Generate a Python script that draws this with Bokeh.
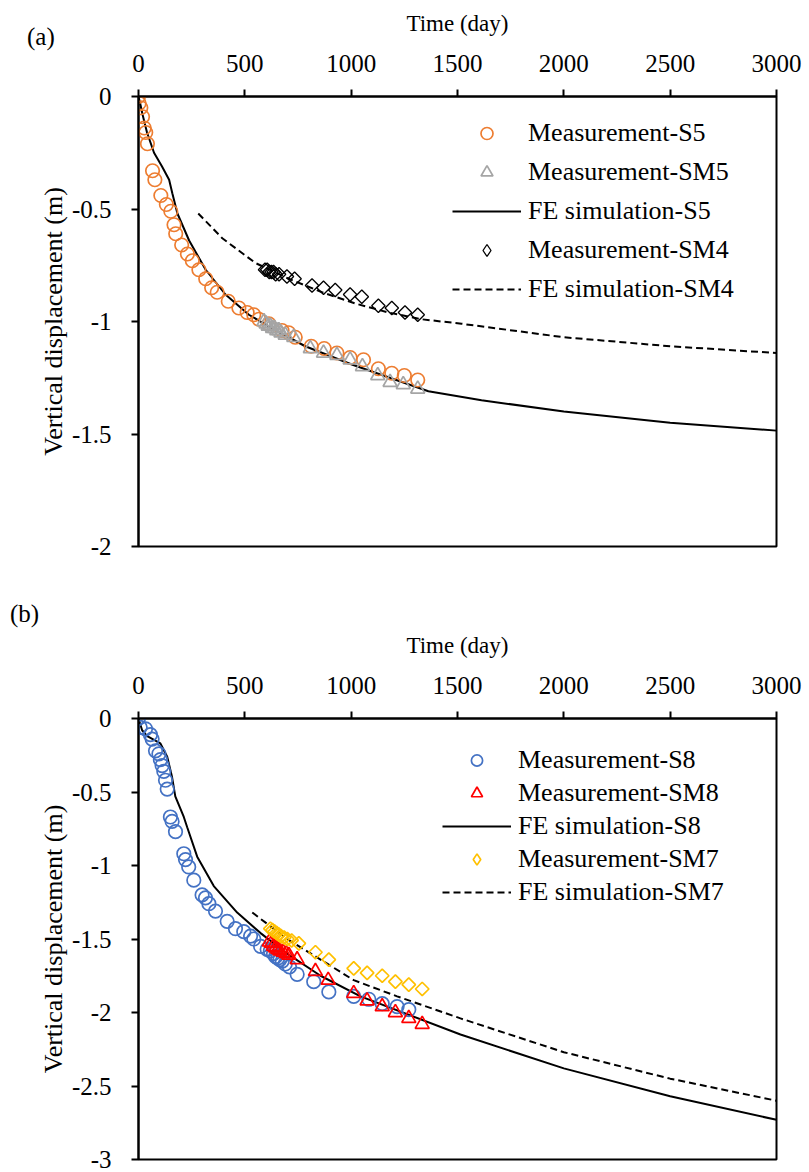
import math
from bokeh.plotting import figure
from bokeh.layouts import column
from bokeh.models import Range1d, FixedTicker, CustomJSTickFormatter, Legend, LegendItem, Div
from bokeh.embed import file_html
from bokeh.resources import INLINE

# ---------------- Panel (a) data ----------------
s5_day = [0, 3, 11, 19, 27, 34, 42, 66, 77, 105, 131, 152, 167, 175, 203, 230, 253, 284, 316, 344,
          370, 422, 472, 511, 542, 566, 613, 675, 706, 737, 812, 873, 933, 995, 1058, 1128, 1191, 1250, 1313]
s5_val = [0, -0.03, -0.05, -0.09, -0.14, -0.16, -0.21, -0.33, -0.37, -0.44, -0.48, -0.51, -0.57, -0.61,
          -0.66, -0.70, -0.73, -0.77, -0.81, -0.85, -0.87, -0.91, -0.94, -0.96, -0.97, -0.99, -1.01,
          -1.04, -1.05, -1.07, -1.11, -1.12, -1.14, -1.16, -1.17, -1.21, -1.23, -1.24, -1.26]

sm5_day = [590, 600, 610, 620, 630, 640, 650, 660, 670, 690, 730, 808, 870, 933, 995, 1053, 1125, 1183, 1245, 1313]
sm5_val = [-1.00, -1.01, -1.02, -1.02, -1.03, -1.03, -1.04, -1.04, -1.05, -1.06, -1.07, -1.12, -1.14,
           -1.15, -1.17, -1.20, -1.24, -1.27, -1.28, -1.30]

sm4_day = [595, 605, 615, 625, 635, 645, 661, 698, 734, 816, 870, 925, 995, 1050, 1128, 1191, 1253, 1313]
sm4_val = [-0.77, -0.77, -0.78, -0.78, -0.78, -0.79, -0.79, -0.80, -0.81, -0.84, -0.85, -0.86, -0.88,
           -0.89, -0.93, -0.94, -0.96, -0.97]

s5_sim_day = [0, 10, 19, 40, 73, 110, 144, 159, 183, 238, 316, 409, 519, 628, 784, 1000, 1363, 1613, 2000, 2500, 3000]
s5_sim_val = [0, -0.04, -0.08, -0.16, -0.25, -0.31, -0.37, -0.43, -0.52, -0.64, -0.77, -0.88, -0.97,
              -1.03, -1.11, -1.19, -1.31, -1.35, -1.40, -1.45, -1.485]

sm4_sim_day = [281, 394, 550, 706, 863, 1019, 1175, 1331, 1519, 2000, 2500, 3000]
sm4_sim_val = [-0.52, -0.63, -0.74, -0.81, -0.87, -0.92, -0.96, -0.99, -1.01, -1.07, -1.11, -1.14]

# ---------------- Panel (b) data ----------------
s8_day = [0, 8, 33, 56, 64, 80, 96, 103, 111, 119, 127, 135, 150, 158, 174, 213, 221, 236, 260, 299,
          315, 331, 362, 417, 456, 495, 527, 542, 574, 605, 620, 635, 645, 655, 665, 676, 690, 710,
          746, 824, 895, 1012, 1083, 1146, 1216, 1271]
s8_val = [0, -0.06, -0.07, -0.11, -0.14, -0.22, -0.24, -0.28, -0.32, -0.36, -0.42, -0.48, -0.67, -0.70,
          -0.77, -0.92, -0.96, -1.01, -1.10, -1.20, -1.22, -1.26, -1.31, -1.38, -1.43, -1.45, -1.48,
          -1.50, -1.55, -1.57, -1.58, -1.60, -1.62, -1.63, -1.64, -1.65, -1.67, -1.69, -1.74, -1.79,
          -1.86, -1.89, -1.91, -1.94, -1.96, -1.98]

sm8_day = [615, 625, 635, 645, 655, 665, 680, 695, 707, 746, 832, 892, 1012, 1075, 1146, 1208, 1271, 1334]
sm8_val = [-1.52, -1.53, -1.55, -1.56, -1.57, -1.58, -1.59, -1.60, -1.61, -1.64, -1.72, -1.78, -1.87,
           -1.92, -1.96, -2.00, -2.04, -2.08]

sm7_day = [620, 630, 640, 650, 660, 670, 685, 700, 720, 754, 832, 895, 1012, 1075, 1146, 1208, 1271, 1334]
sm7_val = [-1.43, -1.44, -1.45, -1.46, -1.47, -1.48, -1.49, -1.50, -1.51, -1.53, -1.59, -1.64, -1.70,
           -1.73, -1.75, -1.79, -1.81, -1.84]

s8_sim_day = [0, 17, 41, 103, 135, 158, 173, 213, 229, 276, 354, 464, 574, 699, 856, 1044, 1514, 2000, 2500, 3000]
s8_sim_val = [0, -0.08, -0.12, -0.17, -0.26, -0.40, -0.53, -0.67, -0.74, -0.94, -1.14, -1.32, -1.46,
              -1.60, -1.75, -1.89, -2.15, -2.38, -2.57, -2.73]

sm7_sim_day = [535, 699, 856, 1012, 1216, 1514, 2000, 2500, 3000]
sm7_sim_val = [-1.32, -1.50, -1.64, -1.78, -1.89, -2.04, -2.27, -2.45, -2.60]

x_ticks = [0, 500, 1000, 1500, 2000, 2500, 3000]
y_ticks_a = [0, -0.5, -1, -1.5, -2]
y_ticks_b = [0, -0.5, -1, -1.5, -2, -2.5, -3]

FONT = "Liberation Serif"
FS = "25px"
FS_XLAB = "23px"
FS_YLAB = "26px"
FS_LEG = "26px"

fmt_js = "return (Math.abs(tick) < 1e-9) ? '0' : String(tick);"


def base_fig(height, left, right, top, bottom, ymin, yticks):
    p = figure(width=809, height=height, x_range=Range1d(0, 3000), y_range=Range1d(ymin, 0),
               x_axis_location="above", y_axis_location="left",
               output_backend="svg", toolbar_location=None,
               min_border_left=left, min_border_right=right,
               min_border_top=top, min_border_bottom=bottom)
    p.xgrid.visible = False
    p.ygrid.visible = False
    p.outline_line_color = "black"
    p.outline_line_width = 2
    p.background_fill_color = "white"
    p.border_fill_color = None
    p.xaxis.ticker = FixedTicker(ticks=x_ticks)
    p.yaxis.ticker = FixedTicker(ticks=yticks)
    for ax in (p.xaxis[0], p.yaxis[0]):
        ax.formatter = CustomJSTickFormatter(code=fmt_js)
        ax.axis_line_width = 2
        ax.axis_line_color = "black"
        ax.major_tick_line_width = 2
        ax.major_tick_line_color = "black"
        ax.major_tick_in = 0
        ax.major_tick_out = 7
        ax.minor_tick_line_color = None
        ax.major_label_text_font = FONT
        ax.major_label_text_font_size = FS
        ax.major_label_text_color = "black"
        ax.axis_label_text_font = FONT
        ax.axis_label_text_font_style = "normal"
        ax.axis_label_text_color = "black"
    p.xaxis.axis_label_text_font_size = FS_XLAB
    p.yaxis.axis_label_text_font_size = FS_YLAB
    p.xaxis.axis_label = "Time (day)"
    p.yaxis.axis_label = "Vertical displacement (m)"
    p.xaxis.major_label_standoff = 18
    p.xaxis.axis_label_standoff = 16
    p.yaxis.major_label_standoff = 20
    p.yaxis.axis_label_standoff = 1
    return p


def panel_tag(text, top, left):
    return Div(text=f'<span style="font-family:\'Liberation Serif\';font-size:25px;color:black;">{text}</span>',
               width=80, height=32, margin=(top, 0, -(top + 32), left))


# ---------------- Panel (a) ----------------
pa = base_fig(590, 136, 33, 96, 44, -2, y_ticks_a)
r_s5_sim = pa.line(s5_sim_day, s5_sim_val, line_color="black", line_width=2)
r_sm4_sim = pa.line(sm4_sim_day, sm4_sim_val, line_color="black", line_width=2, line_dash="7 4")
r_s5 = pa.scatter(s5_day, s5_val, marker="circle", size=13.5, fill_color=None,
                  line_color="#ED7D31", line_width=1.7)
r_sm5 = pa.scatter(sm5_day, sm5_val, marker="triangle", size=14, fill_color=None,
                   line_color="#A5A5A5", line_width=1.7)
r_sm4 = pa.scatter(sm4_day, sm4_val, marker="square", angle=math.pi / 4, size=9.5, fill_color=None,
                   line_color="black", line_width=1.3)
# same data drawn as a diamond symbol, used only for the legend entry
r_sm4_leg = pa.scatter(sm4_day, sm4_val, marker="diamond", size=14, fill_color=None,
                       line_color="black", line_width=1.3, visible=False)

leg_a = Legend(items=[
    LegendItem(label="Measurement-S5", renderers=[r_s5]),
    LegendItem(label="Measurement-SM5", renderers=[r_sm5]),
    LegendItem(label="FE simulation-S5", renderers=[r_s5_sim]),
    LegendItem(label="Measurement-SM4", renderers=[r_sm4_leg]),
    LegendItem(label="FE simulation-SM4", renderers=[r_sm4_sim]),
], location=(314, 242))
pa.add_layout(leg_a)

# ---------------- Panel (b) ----------------
pb = base_fig(582, 138, 33, 128, 13, -3, y_ticks_b)
r_s8_sim = pb.line(s8_sim_day, s8_sim_val, line_color="black", line_width=2)
r_sm7_sim = pb.line(sm7_sim_day, sm7_sim_val, line_color="black", line_width=2, line_dash="7 4")
r_s8 = pb.scatter(s8_day, s8_val, marker="circle", size=13.5, fill_color=None,
                  line_color="#4472C4", line_width=1.7)
r_sm8 = pb.scatter(sm8_day, sm8_val, marker="triangle", size=14, fill_color=None,
                   line_color="#FF0000", line_width=1.7)
r_sm7 = pb.scatter(sm7_day, sm7_val, marker="square", angle=math.pi / 4, size=9.5, fill_color=None,
                   line_color="#FFC000", line_width=1.7)
r_sm7_leg = pb.scatter(sm7_day, sm7_val, marker="diamond", size=14, fill_color=None,
                       line_color="#FFC000", line_width=1.7, visible=False)

leg_b = Legend(items=[
    LegendItem(label="Measurement-S8", renderers=[r_s8]),
    LegendItem(label="Measurement-SM8", renderers=[r_sm8]),
    LegendItem(label="FE simulation-S8", renderers=[r_s8_sim]),
    LegendItem(label="Measurement-SM7", renderers=[r_sm7_leg]),
    LegendItem(label="FE simulation-SM7", renderers=[r_sm7_sim]),
], location=(304, 252))
pb.add_layout(leg_b)

for leg, gh, sp, st in ((leg_a, 30, 9, 7), (leg_b, 28, 3, 7)):
    leg.background_fill_alpha = 0
    leg.border_line_alpha = 0
    leg.label_text_font = FONT
    leg.label_text_font_size = FS_LEG
    leg.label_text_color = "black"
    leg.glyph_width = 69
    leg.glyph_height = gh
    leg.label_height = gh
    leg.spacing = sp
    leg.padding = 0
    leg.margin = 0
    leg.label_standoff = st
    leg.click_policy = "none"

tag_a = panel_tag("(a)", 19, 27)
tag_b = panel_tag("(b)", 6, 10)

layout = column(tag_a, pa, tag_b, pb, spacing=0)
open("out.html", "w").write(file_html(layout, INLINE))
